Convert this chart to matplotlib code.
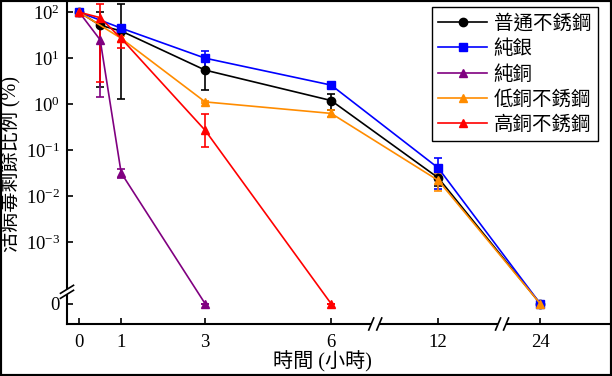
import matplotlib.pyplot as plt
from matplotlib.lines import Line2D
from matplotlib.patches import Polygon, Rectangle
from matplotlib.ticker import NullLocator
from matplotlib.transforms import IdentityTransform

plt.rcParams['font.family'] = ['Liberation Serif', 'Noto Sans CJK TC']
plt.rcParams['mathtext.fontset'] = 'custom'
plt.rcParams['mathtext.rm'] = 'Liberation Serif'
plt.rcParams['mathtext.default'] = 'regular'

# x axis is broken after 6 h and after 12 h, so each hour gets an axis position
tick_hours = [0, 1, 3, 6, 12, 24]
hour_pos = {0: 0, 0.5: 0.5, 1: 1, 3: 3, 6: 6, 12: 8.55, 24: 10.98}
x_breaks = [7.05, 10.07]

# survival ratio (%), 0 = none detected (drawn on the "0" level below the break)
steel_h = [0, 0.5, 1, 3, 6, 12, 24]
steel_v = [100, 52, 39, 5.5, 1.2, 0.025, 0]
steel_lo = [0, 49.6, 37.7, 3.5, 0.45, 0.008, 0]
steel_hi = [0, 49.6, 115, 3.5, 0.45, 0.008, 0]

silver_h = [0, 1, 3, 6, 12, 24]
silver_v = [100, 45, 10, 2.6, 0.041, 0]
silver_lo = [0, 5, 4.5, 0.35, 0.027, 0]
silver_hi = [0, 5, 4.5, 0.35, 0.027, 0]

copper_h = [0, 0.5, 1, 3]
copper_v = [100, 25, 0.032, 0]
copper_lo = [0, 23.6, 0.007, 0]
copper_hi = [0, 23.6, 0.007, 0]

lowcu_h = [0, 1, 3, 6, 12, 24]
lowcu_v = [100, 27, 1.12, 0.63, 0.022, 0]
lowcu_lo = [0, 4, 0.08, 0.1, 0.009, 0]
lowcu_hi = [0, 4, 0.08, 0.1, 0.009, 0]

highcu_h = [0, 0.5, 1, 3, 6]
highcu_v = [100, 76, 27, 0.27, 0]
highcu_lo = [0, 73, 10, 0.15, 0]
highcu_hi = [0, 73, 10, 0.35, 0]

labels = ['普通不銹鋼', '純銀', '純銅', '低銅不銹鋼', '高銅不銹鋼']
colors = ['black', '#0000ff', '#800080', '#ff8c00', '#ff0000']
markers = ['o', 's', '^', '^', '^']

ZERO_LEVEL = 10 ** -4.34
Y_BREAK = 10 ** -4.08
ytick_vals = [1e2, 1e1, 1e0, 1e-1, 1e-2, 1e-3, ZERO_LEVEL]
ytick_labels = ['$10^{2}$', '$10^{1}$', '$10^{0}$', '$10^{-1}$',
                '$10^{-2}$', '$10^{-3}$', '0']

fig = plt.figure(figsize=(6.12, 3.76), dpi=100)
ax = fig.add_axes([67 / 612, 52 / 376, 543 / 612, 321 / 376])
ax.set_yscale('log')

data = [
    (steel_h, steel_v, steel_lo, steel_hi),
    (silver_h, silver_v, silver_lo, silver_hi),
    (copper_h, copper_v, copper_lo, copper_hi),
    (lowcu_h, lowcu_v, lowcu_lo, lowcu_hi),
    (highcu_h, highcu_v, highcu_lo, highcu_hi),
]

handles = []
for (h, v, lo, hi), lab, c, m in zip(data, labels, colors, markers):
    x = [hour_pos[t] for t in h]
    y = [val if val > 0 else ZERO_LEVEL for val in v]
    cont = ax.errorbar(x, y, yerr=[lo, hi], color=c, marker=m, ms=6,
                       lw=1.2, elinewidth=1.2, capsize=3, capthick=1.2)
    handles.append(Line2D([], [], color=c, marker=m, ms=6, lw=1.2, label=lab))

ax.set_xlim(-0.29, 12.64)
ax.set_ylim(10 ** -4.78, 10 ** 2.2)
ax.set_xticks([hour_pos[t] for t in tick_hours], [str(t) for t in tick_hours])
ax.set_yticks(ytick_vals, ytick_labels)
ax.yaxis.set_minor_locator(NullLocator())
ax.tick_params(direction='in', length=4, width=1.2, labelsize=13.5)
ax.tick_params(axis='x', pad=7)
ax.tick_params(axis='y', pad=5)

for s in ['top', 'right']:
    ax.spines[s].set_visible(False)
for s in ['left', 'bottom']:
    ax.spines[s].set_linewidth(1.5)

ax.set_ylabel('活病毒剩餘比例 (%)', fontsize=14.5, labelpad=4)
ax.set_xlabel('時間 (小時)', fontsize=14.5, va='center')
ax.xaxis.set_label_coords(0.47, -0.118)

leg = ax.legend(handles=handles, loc='upper right', bbox_to_anchor=(0.978, 0.988),
                borderaxespad=0, fontsize=14, fancybox=False, framealpha=1,
                edgecolor='black', handlelength=2.5, handletextpad=0.35,
                labelspacing=0.35, borderpad=0.35, numpoints=1)
leg.get_frame().set_linewidth(1.0)


def draw_break(x, y, d, off):
    # pair of slashes across a spine, with the spine blanked between them
    px, py = ax.transData.transform((x, y))
    pts = [(px - off[0] - d[0], py - off[1] - d[1]),
           (px - off[0] + d[0], py - off[1] + d[1]),
           (px + off[0] + d[0], py + off[1] + d[1]),
           (px + off[0] - d[0], py + off[1] - d[1])]
    fig.add_artist(Polygon(pts, closed=True, fc='white', ec='none',
                           transform=IdentityTransform(), zorder=5))
    for sgn in (-1, 1):
        cx, cy = px + sgn * off[0], py + sgn * off[1]
        fig.add_artist(Line2D([cx - d[0], cx + d[0]], [cy - d[1], cy + d[1]],
                              color='black', lw=1.2,
                              transform=IdentityTransform(), zorder=6))


xmin, _ = ax.get_xlim()
ymin, _ = ax.get_ylim()
draw_break(xmin, Y_BREAK, (6.5, 4), (0, 2.5))
for xb in x_breaks:
    draw_break(xb, ymin, (2.5, 6), (4, 0))

fig.add_artist(Rectangle((0, 0), 1, 1, transform=fig.transFigure,
                         fill=False, ec='black', lw=3))

fig.savefig('out.png', dpi=100)
